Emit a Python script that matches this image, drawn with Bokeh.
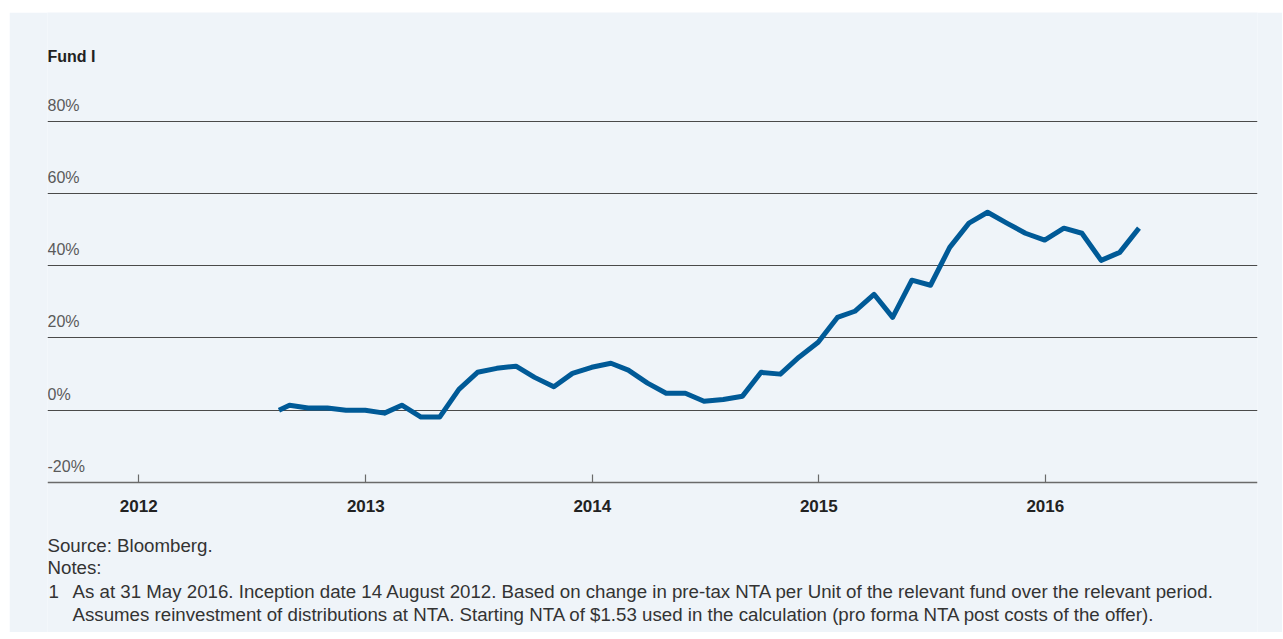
import pandas as pd
from bokeh.plotting import figure
from bokeh.models import Range1d, FixedTicker, DatetimeTickFormatter, ColumnDataSource
from bokeh.embed import file_html
from bokeh.resources import INLINE
from bokeh.core.properties import value

# ---- data ----
dates = [
    "2012-08-14", "2012-08-31", "2012-09-30", "2012-10-31", "2012-11-30", "2012-12-31",
    "2013-01-31", "2013-02-28", "2013-03-31", "2013-04-30", "2013-05-31", "2013-06-30",
    "2013-07-31", "2013-08-31", "2013-09-30", "2013-10-31", "2013-11-30", "2013-12-31",
    "2014-01-31", "2014-02-28", "2014-03-31", "2014-04-30", "2014-05-31", "2014-06-30",
    "2014-07-31", "2014-08-31", "2014-09-30", "2014-10-31", "2014-11-30", "2014-12-31",
    "2015-01-31", "2015-02-28", "2015-03-31", "2015-04-30", "2015-05-31", "2015-06-30",
    "2015-07-31", "2015-08-31", "2015-09-30", "2015-10-31", "2015-11-30", "2015-12-31",
    "2016-01-31", "2016-02-29", "2016-03-31", "2016-04-30", "2016-05-31",
]
fund_return = [
    0.0, 1.4, 0.6, 0.6, 0.0, 0.0,
    -0.8, 1.4, -1.9, -1.9, 5.8, 10.5,
    11.6, 12.2, 9.1, 6.5, 10.2, 11.9,
    13.0, 11.1, 7.5, 4.7, 4.7, 2.5,
    3.0, 3.9, 10.5, 10.0, 14.7, 18.8,
    25.7, 27.4, 32.1, 25.7, 36.0, 34.6,
    45.1, 51.8, 54.8, 51.8, 49.0, 47.1,
    50.4, 49.0, 41.5, 43.7, 50.4,
]
y_ticks = [-20, 0, 20, 40, 60, 80]
y_tick_labels = ["-20%", "0%", "20%", "40%", "60%", "80%"]
year_ticks = ["2012-01-01", "2013-01-01", "2014-01-01", "2015-01-01", "2016-01-01"]

title_text = "Fund I"
footnotes = [
    "Source: Bloomberg.",
    "Notes:",
    "1",
    "As at 31 May 2016. Inception date 14 August 2012. Based on change in pre-tax NTA "
    "per Unit of the relevant fund over the relevant period.",
    "Assumes reinvestment of distributions at NTA. Starting NTA of $1.53 used in the "
    "calculation (pro forma NTA post costs of the offer).",
]

# ---- layout / styling ----
BG = "#eff4f9"
LINE = "#005a97"
FONT = "Liberation Sans"

x_start = pd.Timestamp("2011-08-07")
x_end = pd.Timestamp("2016-12-08")
y_bottom, y_top = -61.52, 110.1

p = figure(
    width=1273, height=620, output_backend="svg", toolbar_location=None, title=None,
    x_axis_type="datetime",
    x_range=Range1d(x_start, x_end), y_range=Range1d(y_bottom, y_top),
    min_border_left=38, min_border_right=25, min_border_top=0, min_border_bottom=0,
    background_fill_color=BG, border_fill_color=BG, outline_line_color=None,
    margin=(12, 0, 0, 9),
)

p.yaxis.visible = False
p.xgrid.visible = False
p.ygrid.ticker = FixedTicker(ticks=[t for t in y_ticks if t > y_ticks[0]])
p.ygrid.grid_line_color = "#4a4a4a"
p.ygrid.grid_line_width = 1.2

ax = p.xaxis[0]
ax.fixed_location = y_ticks[0]
ax.ticker = FixedTicker(ticks=[pd.Timestamp(d).value / 1e6 for d in year_ticks])
ax.formatter = DatetimeTickFormatter(years="%Y", months="%Y", days="%Y", hours="%Y",
                                     hourmin="%Y", minutes="%Y", minsec="%Y", seconds="%Y",
                                     milliseconds="%Y", microseconds="%Y")
ax.axis_line_color = "#6a6a6a"
ax.axis_line_width = 1.5
ax.major_tick_line_color = "#6a6a6a"
ax.major_tick_line_width = 1.2
ax.major_tick_in = 8
ax.major_tick_out = 0
ax.minor_tick_line_color = None
ax.major_label_standoff = 17
ax.major_label_text_font = FONT
ax.major_label_text_font_size = "17px"
ax.major_label_text_font_style = "bold"
ax.major_label_text_color = "#222222"

# y tick labels above grid lines
p.text(x=[x_start] * len(y_ticks), y=y_ticks, text=y_tick_labels,
       text_font=value(FONT), text_font_size="16px", text_color="#5a5a5a",
       text_align="left", text_baseline="alphabetic", y_offset=-16)

# series
src = ColumnDataSource(dict(date=pd.to_datetime(dates), ret=fund_return))
p.line("date", "ret", source=src, line_color=LINE, line_width=5, line_join="round")

# title
p.text(x=[x_start], y=[97.9], text=[title_text], text_font=value(FONT),
       text_font_size="16px", text_font_style="bold", text_color="#222222",
       text_align="left", text_baseline="alphabetic")

# footnotes
fn_y = [-37.5, -43.6, -50.2, -50.2, -56.6]
fn_dx = [0, 0, 1, 25, 25]
p.text(x=[x_start] * len(footnotes), y=fn_y, text=footnotes, x_offset=fn_dx,
       text_font=value(FONT), text_font_size="18.7px", text_color="#333333",
       text_align="left", text_baseline="alphabetic")

open("out.html", "w").write(file_html(p, INLINE))
